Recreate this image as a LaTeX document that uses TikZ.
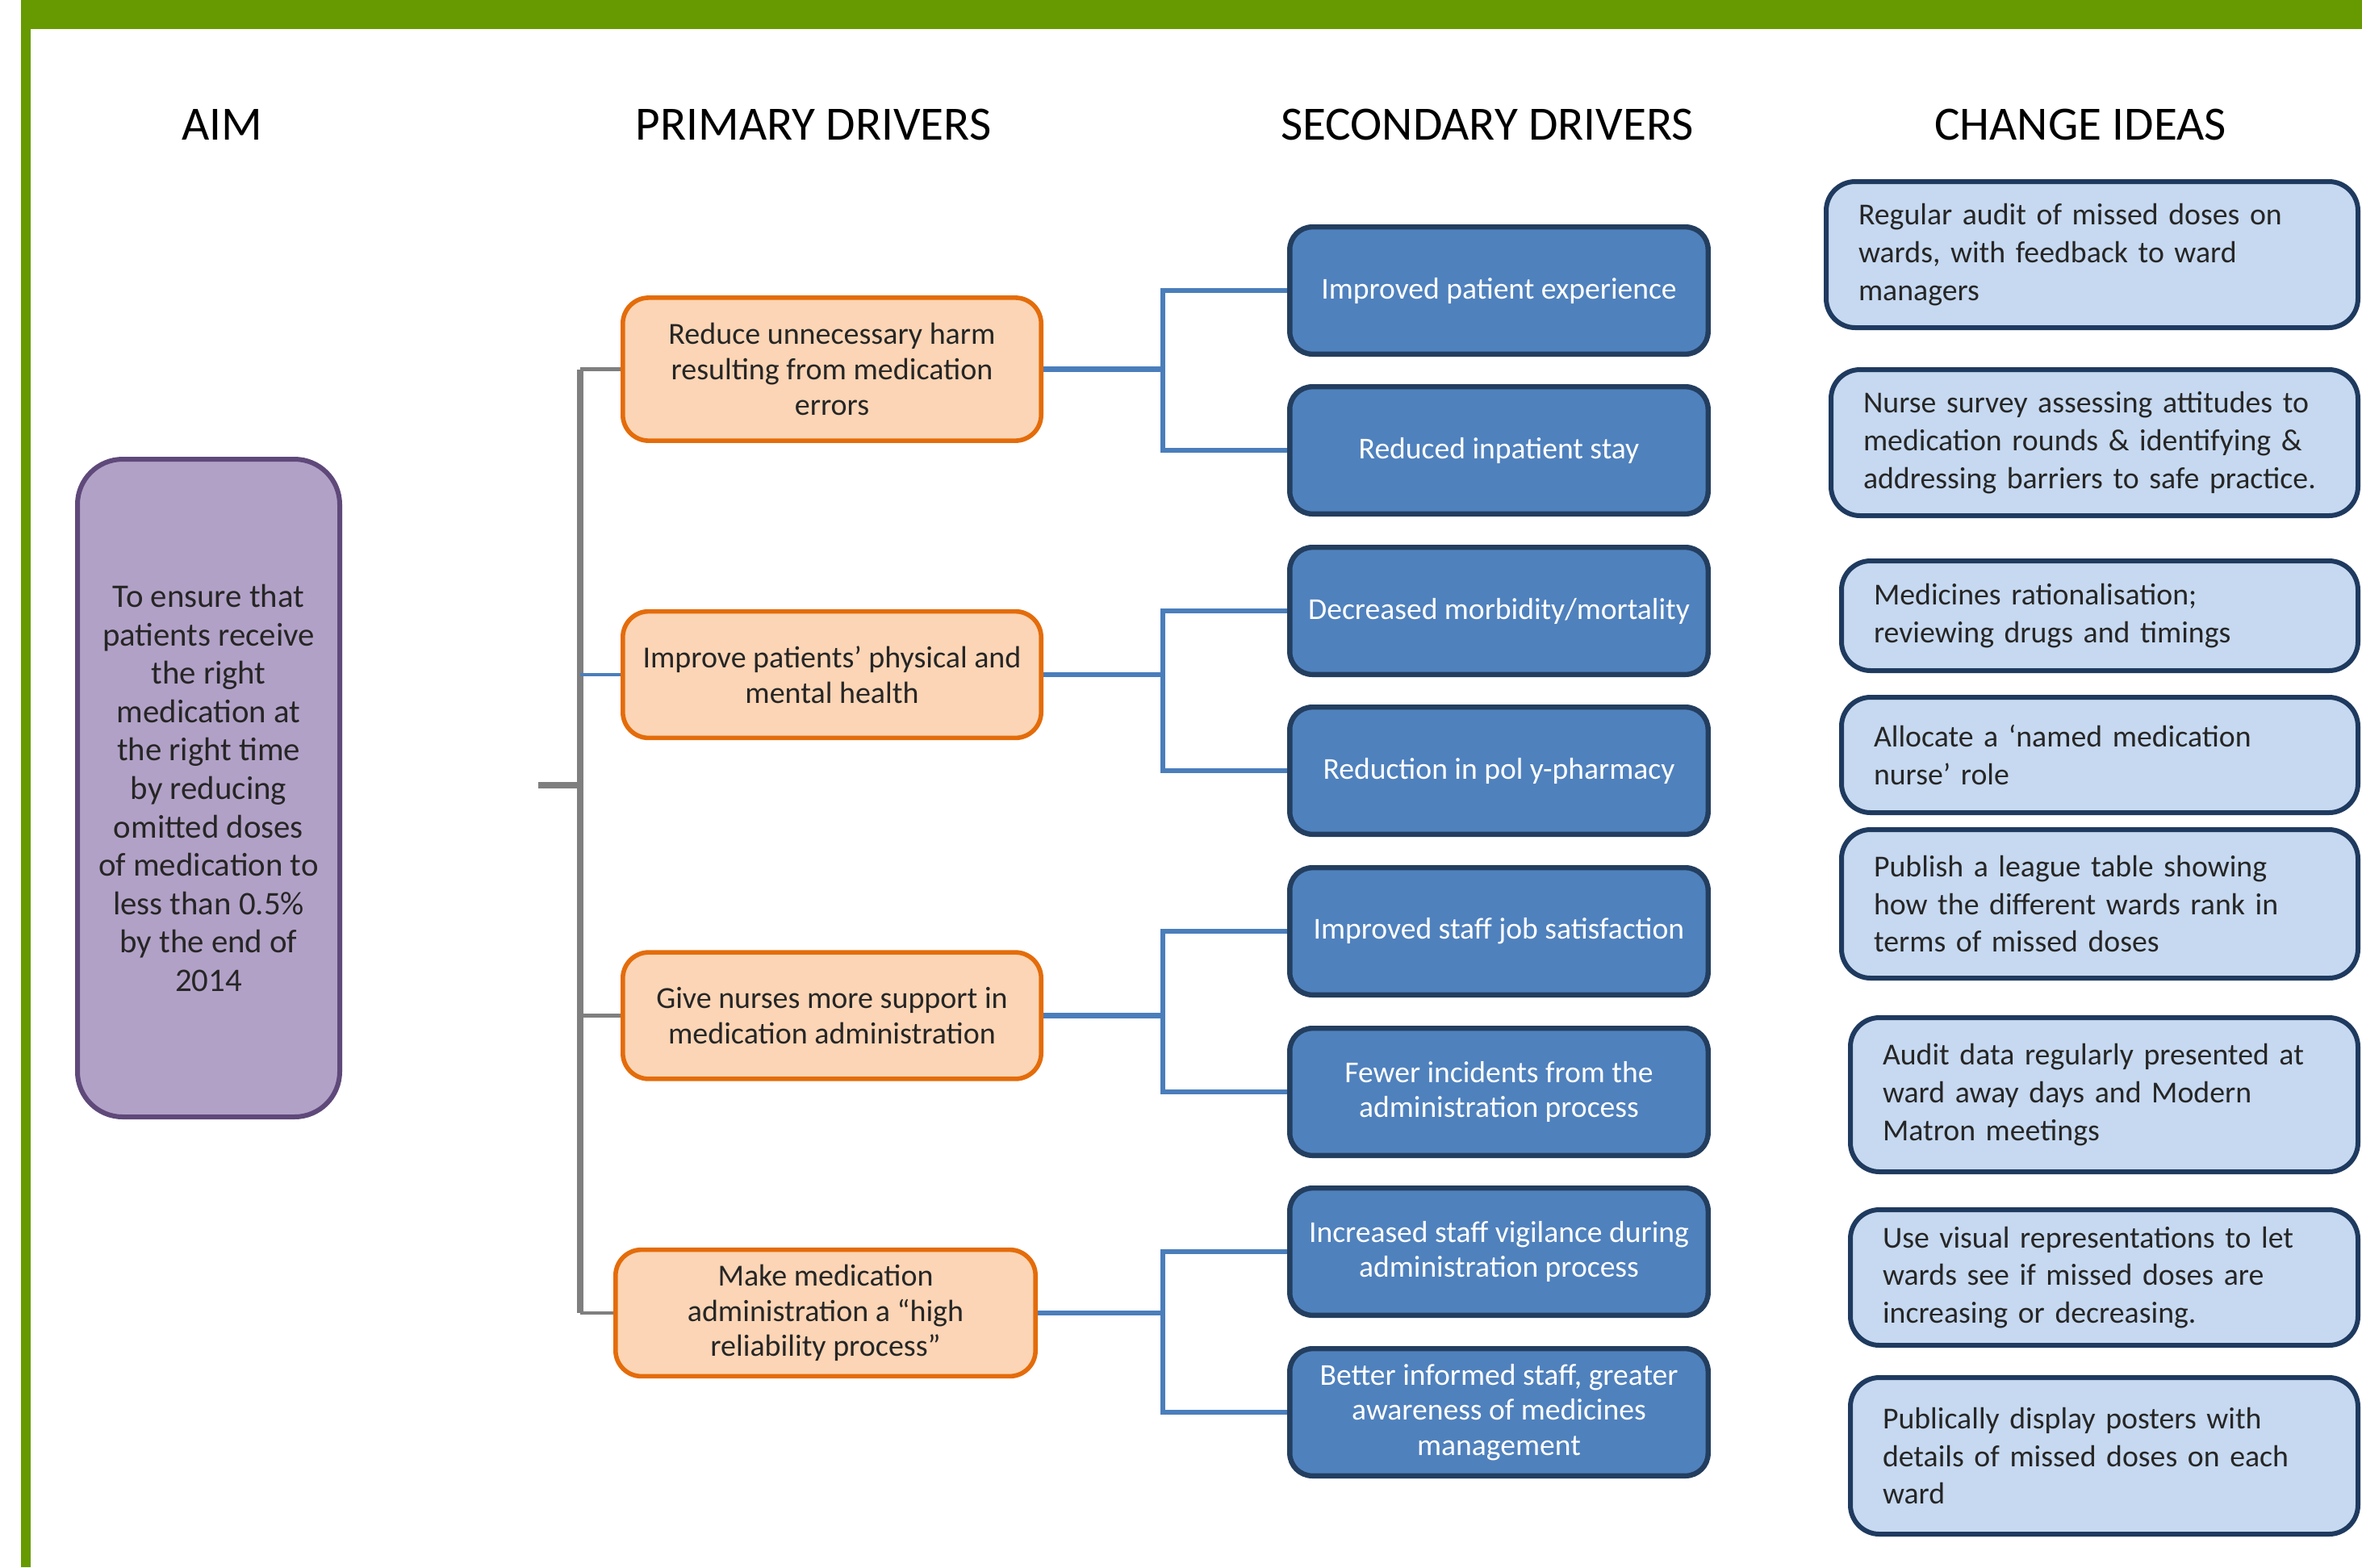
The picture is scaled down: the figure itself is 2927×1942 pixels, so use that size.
\documentclass[tikz,border=0pt]{standalone}
\usepackage{fontspec}
\setmainfont{Carlito}

\definecolor{framegreen}{HTML}{669A00}
\definecolor{aimfill}{HTML}{B2A1C7}
\definecolor{aimline}{HTML}{5F497A}
\definecolor{drvfill}{HTML}{FBD5B5}
\definecolor{drvline}{HTML}{E46C0A}
\definecolor{secfill}{HTML}{4F81BD}
\definecolor{secline}{HTML}{233E5F}
\definecolor{ideafill}{HTML}{C6D9F0}
\definecolor{idealine}{HTML}{1F3A5F}
\definecolor{treegray}{HTML}{7F7F7F}
\definecolor{linkblue}{HTML}{4A7EBB}

\tikzset{
  headtext/.style={font=\fontsize{14.8}{17}\selectfont, inner sep=0pt},
  aimbox/.style={draw=aimline, fill=aimfill, line width=1.5pt, rounded corners=14pt,
    minimum width=81.25pt, minimum height=203.75pt, align=center, text=black!85,
    font=\fontsize{10.2}{11.9}\selectfont},
  drvbox/.style={draw=drvline, fill=drvfill, line width=1.4pt, rounded corners=8pt,
    minimum width=129.6pt, minimum height=39.2pt, align=center, text=black!85,
    font=\fontsize{9.5}{10.9}\selectfont},
  secbox/.style={draw=secline, fill=secfill, text=white, line width=1.6pt, rounded corners=7pt,
    minimum width=129.6pt, minimum height=39.4pt, align=center,
    font=\fontsize{9.4}{10.9}\selectfont},
  ideabox/.style={draw=idealine, fill=ideafill, line width=1.5pt, rounded corners=9pt,
    anchor=west, align=left, inner xsep=10pt, inner ysep=0pt, text=black!85,
    font=\fontsize{9.45}{11.7}\selectfont},
  trunk/.style={draw=treegray, line width=2.2pt},
  twig/.style={draw=treegray, line width=1.2pt},
  bline/.style={draw=linkblue, line width=1.7pt},
}

\begin{document}
\begin{tikzpicture}[x=0.25pt,y=0.25pt,yscale=-1,xscale=1]
\useasboundingbox (0,0) rectangle (2927,1942);

%Shape: Frame bars
\fill[framegreen] (26,0) rectangle (2927,36);
\fill[framegreen] (26,0) rectangle (38,1942);

% Text Node: column heads
\node[headtext] (hAim) at (275,154) {AIM};
\node[headtext] (hPrim) at (1008,154) {PRIMARY DRIVERS};
\node[headtext] (hSec) at (1843,154) {SECONDARY DRIVERS};
\node[headtext] (hIdea) at (2578,154) {CHANGE IDEAS};

%Shape: Aim box
\node[aimbox] (aim) at (258.5,976.5) {To ensure that\\patients receive\\the right\\medication at\\the right time\\by reducing\\omitted doses\\of medication to\\less than 0.5\%\\by the end of\\2014};

%Shape: Primary drivers
\node[drvbox, minimum height=44.3pt] (p1) at (1031,457.5) {Reduce unnecessary harm\\resulting from medication\\errors};
\node[drvbox] (p2) at (1031,836) {Improve patients’ physical and\\mental health};
\node[drvbox] (p3) at (1031,1258.5) {Give nurses more support in\\medication administration};
\node[drvbox, minimum width=130.1pt] (p4) at (1023,1627) {Make medication\\administration a “high\\reliability process”};

%Shape: Secondary drivers
\node[secbox] (s1) at (1857.5,360) {Improved patient experience};
\node[secbox] (s2) at (1857.5,558) {Reduced inpatient stay};
\node[secbox] (s3) at (1857.5,757) {Decreased morbidity/mortality};
\node[secbox] (s4) at (1857.5,955) {Reduction in pol y-pharmacy};
\node[secbox] (s5) at (1857.5,1154) {Improved staff job satisfaction};
\node[secbox] (s6) at (1857.5,1353) {Fewer incidents from the\\administration process};
\node[secbox] (s7) at (1857.5,1551) {Increased staff vigilance during\\administration process};
\node[secbox] (s8) at (1857.5,1750) {Better informed staff, greater\\awareness of medicines\\management};

%Shape: Change ideas
\node[ideabox, text width=144.75pt, minimum height=45.25pt] (c1) at (2260,315.5) {Regular audit of missed doses on\\wards, with feedback to ward\\managers};
\node[ideabox, text width=143.25pt, minimum height=45.25pt] (c2) at (2266,548.5) {Nurse survey assessing attitudes to\\medication rounds \& identifying \&\\addressing barriers to safe practice.};
\node[ideabox, text width=140pt, minimum height=34pt] (c3) at (2279,763) {Medicines rationalisation;\\reviewing drugs and timings};
\node[ideabox, text width=140pt, minimum height=35.75pt] (c4) at (2279,935.5) {Allocate a ‘named medication\\nurse’ role};
\node[ideabox, text width=140pt, minimum height=46pt] (c5) at (2279,1120) {Publish a league table showing\\how the different wards rank in\\terms of missed doses};
\node[ideabox, text width=137.25pt, minimum height=47.75pt] (c6) at (2290,1356.5) {Audit data regularly presented at\\ward away days and Modern\\Matron meetings};
\node[ideabox, text width=137.25pt, minimum height=42pt] (c7) at (2290,1583) {Use visual representations to let\\wards see if missed doses are\\increasing or decreasing.};
\node[ideabox, text width=137.25pt, minimum height=48.5pt] (c8) at (2290,1804) {Publically display posters with\\details of missed doses on each\\ward};

%Shape: Tree from aim to primary drivers
\coordinate (stub) at (667,973);
\coordinate (trunk) at (719,973);
\draw[trunk] (stub) -- (trunk);
\draw[trunk] (p1.west -| trunk) -- (p4.west -| trunk);
\draw[twig] (p1.west) -- (p1.west -| trunk);
\draw[bline, line width=1.1pt] (p2.west) -- (p2.west -| trunk);
\draw[twig] (p3.west) -- (p3.west -| trunk);
\draw[twig] (p4.west) -- (p4.west -| trunk);

%Shape: Links from primary to secondary drivers
\coordinate (fork) at (1441,973);
\draw[bline] (p1.east) -- (p1.east -| fork);
\draw[bline] (s1.west) -- (s1.west -| fork) -- (s2.west -| fork) -- (s2.west);
\draw[bline] (p2.east) -- (p2.east -| fork);
\draw[bline] (s3.west) -- (s3.west -| fork) -- (s4.west -| fork) -- (s4.west);
\draw[bline] (p3.east) -- (p3.east -| fork);
\draw[bline] (s5.west) -- (s5.west -| fork) -- (s6.west -| fork) -- (s6.west);
\draw[bline] (p4.east) -- (p4.east -| fork);
\draw[bline] (s7.west) -- (s7.west -| fork) -- (s8.west -| fork) -- (s8.west);

\end{tikzpicture}
\end{document}
